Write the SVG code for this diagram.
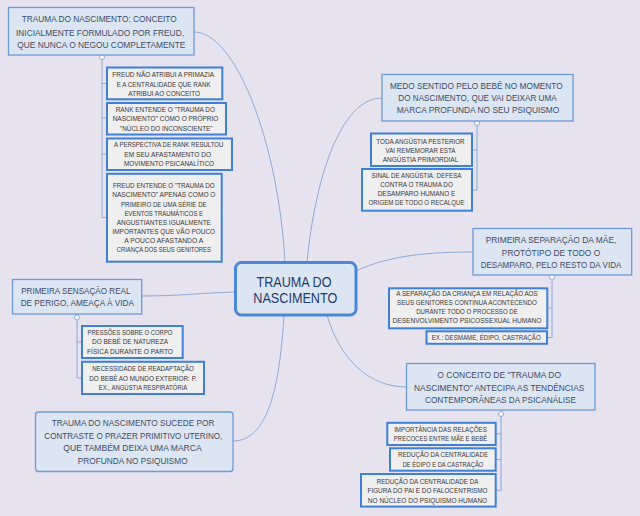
<svg xmlns="http://www.w3.org/2000/svg" width="640" height="516" viewBox="0 0 640 516">
<style>
text{font-family:"Liberation Sans",Arial,sans-serif;text-anchor:middle}
.mn{fill:#dce6f2;stroke:#6b9ad4;stroke-width:1.3}
.sb{fill:#efeff0;stroke:#3f80d6;stroke-width:2}
.cn{fill:#dce6f2;stroke:#4a88d6;stroke-width:3}
.mt{font-size:9px;fill:#3e4a66}
.st{font-size:7px;fill:#383838}
.ct{font-size:14px;fill:#1f3a6b}
.ln{fill:none;stroke:#8ea9d3;stroke-width:1}
.bt{fill:#ffffff;stroke:#8ea9d3;stroke-width:1}
</style>
<rect width="640" height="516" fill="#e7e3ee"/>

<g id="connectors">
<path class="ln" d="M194,32 C235,32 278,140 285,262"/>
<path class="ln" d="M307,262 C315,180 340,98 382,98"/>
<path class="ln" d="M356,271 C390,255 430,252 473,252"/>
<path class="ln" d="M142,296 C180,296 200,293 235,292"/>
<path class="ln" d="M284,315 C280,380 270,441 233,441"/>
<path class="ln" d="M327,315 C340,360 370,387 406,387"/>
<path class="ln" d="M102,59.5 V217.5 H107 M102,83.5 H107 M102,118 H107 M102,154 H107"/>
<path class="ln" d="M477,125.5 V190 H472 M477,150 H472"/>
<path class="ln" d="M552,279.5 V337.5 H547 M552,308 H547"/>
<path class="ln" d="M501,416.5 V490.3 H496 M501,433.8 H496 M501,459.5 H496"/>
<path class="ln" d="M77,320 V378 H82 M77,342 H82"/>
<circle class="bt" cx="102" cy="57" r="2.5"/>
<circle class="bt" cx="477" cy="123" r="2.5"/>
<circle class="bt" cx="552" cy="277" r="2.5"/>
<circle class="bt" cx="501" cy="414" r="2.5"/>
<circle class="bt" cx="77" cy="317.5" r="2.5"/>
</g>

<g id="center">
<rect class="cn" x="235.5" y="262.5" width="120.5" height="52.5" rx="6"/>
<text class="ct" x="294" y="286.7" textLength="75" lengthAdjust="spacingAndGlyphs">TRAUMA DO</text>
<text class="ct" x="295.3" y="302.7" textLength="84" lengthAdjust="spacingAndGlyphs">NASCIMENTO</text>
</g>

<g id="n-conceito-freud">
<rect class="mn" x="8.5" y="7.5" width="185.5" height="47.5"/>
<text class="mt" x="99.2" y="22.3" textLength="155" lengthAdjust="spacingAndGlyphs">TRAUMA DO NASCIMENTO: CONCEITO</text>
<text class="mt" x="100" y="35.6" textLength="168" lengthAdjust="spacingAndGlyphs">INICIALMENTE FORMULADO POR FREUD,</text>
<text class="mt" x="101.3" y="47.6" textLength="168" lengthAdjust="spacingAndGlyphs">QUE NUNCA O NEGOU COMPLETAMENTE</text>
</g>
<g id="s-freud-primazia">
<rect class="sb" x="107" y="67.5" width="115.3" height="31.8"/>
<text class="st" x="163.2" y="76.5" textLength="101.7" lengthAdjust="spacingAndGlyphs">FREUD NÃO ATRIBUI A PRIMAZIA</text>
<text class="st" x="163.7" y="86.5" textLength="94" lengthAdjust="spacingAndGlyphs">E A CENTRALIDADE QUE RANK</text>
<text class="st" x="164.2" y="95.8" textLength="71.7" lengthAdjust="spacingAndGlyphs">ATRIBUI AO CONCEITO</text>
</g>
<g id="s-rank-nucleo">
<rect class="sb" x="107" y="103" width="119" height="31.5"/>
<text class="st" x="165.3" y="111.5" textLength="99.3" lengthAdjust="spacingAndGlyphs">RANK ENTENDE O "TRAUMA DO</text>
<text class="st" x="165.5" y="121" textLength="105.7" lengthAdjust="spacingAndGlyphs">NASCIMENTO" COMO O PRÓPRIO</text>
<text class="st" x="166.3" y="130.5" textLength="92.7" lengthAdjust="spacingAndGlyphs">"NÚCLEO DO INCONSCIENTE"</text>
</g>
<g id="s-rank-afastamento">
<rect class="sb" x="107" y="138.5" width="125" height="31.5"/>
<text class="st" x="168.7" y="146.8" textLength="109.3" lengthAdjust="spacingAndGlyphs">A PERSPECTIVA DE RANK RESULTOU</text>
<text class="st" x="167.7" y="156.5" textLength="86.7" lengthAdjust="spacingAndGlyphs">EM SEU AFASTAMENTO DO</text>
<text class="st" x="169" y="166" textLength="90" lengthAdjust="spacingAndGlyphs">MOVIMENTO PSICANALÍTICO</text>
</g>
<g id="s-freud-serie">
<rect class="sb" x="107" y="173.8" width="114.7" height="87.9"/>
<text class="st" x="163.8" y="188.2" textLength="101.7" lengthAdjust="spacingAndGlyphs">FREUD ENTENDE O "TRAUMA DO</text>
<text class="st" x="163.8" y="197.3" textLength="103.3" lengthAdjust="spacingAndGlyphs">NASCIMENTO" APENAS COMO O</text>
<text class="st" x="163.8" y="206.5" textLength="85.7" lengthAdjust="spacingAndGlyphs">PRIMEIRO DE UMA SÉRIE DE</text>
<text class="st" x="163.8" y="215.7" textLength="78.3" lengthAdjust="spacingAndGlyphs">EVENTOS TRAUMÁTICOS E</text>
<text class="st" x="163.8" y="224.8" textLength="94.3" lengthAdjust="spacingAndGlyphs">ANGUSTIANTES IGUALMENTE</text>
<text class="st" x="163.8" y="234" textLength="102.7" lengthAdjust="spacingAndGlyphs">IMPORTANTES QUE VÃO POUCO</text>
<text class="st" x="163.8" y="243.2" textLength="79" lengthAdjust="spacingAndGlyphs">A POUCO AFASTANDO A</text>
<text class="st" x="163.8" y="252.4" textLength="94.3" lengthAdjust="spacingAndGlyphs">CRIANÇA DOS SEUS GENITORES</text>
</g>

<g id="n-medo">
<rect class="mn" x="382" y="74.5" width="191" height="46.5"/>
<text class="mt" x="476.3" y="88.8" textLength="172.7" lengthAdjust="spacingAndGlyphs">MEDO SENTIDO PELO BEBÊ NO MOMENTO</text>
<text class="mt" x="477.5" y="101.1" textLength="158.3" lengthAdjust="spacingAndGlyphs">DO NASCIMENTO, QUE VAI DEIXAR UMA</text>
<text class="mt" x="478" y="113.3" textLength="162.7" lengthAdjust="spacingAndGlyphs">MARCA PROFUNDA NO SEU PSIQUISMO</text>
</g>
<g id="s-toda-angustia">
<rect class="sb" x="371" y="133.5" width="101" height="32.5"/>
<text class="st" x="420.5" y="143.5" textLength="88.3" lengthAdjust="spacingAndGlyphs">TODA ANGÚSTIA PESTERIOR</text>
<text class="st" x="420.5" y="152.5" textLength="70" lengthAdjust="spacingAndGlyphs">VAI REMEMORAR ESTA</text>
<text class="st" x="420.5" y="161.8" textLength="75.7" lengthAdjust="spacingAndGlyphs">ANGÚSTIA PRIMORDIAL</text>
</g>
<g id="s-sinal-angustia">
<rect class="sb" x="362" y="169" width="110" height="41.7"/>
<text class="st" x="416.5" y="177.8" textLength="90" lengthAdjust="spacingAndGlyphs">SINAL DE ANGÚSTIA: DEFESA</text>
<text class="st" x="416.5" y="187" textLength="72.7" lengthAdjust="spacingAndGlyphs">CONTRA O TRAUMA DO</text>
<text class="st" x="416.5" y="196.1" textLength="77.7" lengthAdjust="spacingAndGlyphs">DESAMPARO HUMANO E</text>
<text class="st" x="416.5" y="205.3" textLength="96" lengthAdjust="spacingAndGlyphs">ORIGEM DE TODO O RECALQUE</text>
</g>

<g id="n-separacao">
<rect class="mn" x="473" y="228.5" width="158.7" height="46.5"/>
<text class="mt" x="551" y="243.3" textLength="130.7" lengthAdjust="spacingAndGlyphs">PRIMEIRA SEPARAÇÃO DA MÃE,</text>
<text class="mt" x="551" y="255.6" textLength="98.3" lengthAdjust="spacingAndGlyphs">PROTÓTIPO DE TODO O</text>
<text class="mt" x="551" y="267.6" textLength="140.7" lengthAdjust="spacingAndGlyphs">DESAMPARO, PELO RESTO DA VIDA</text>
</g>
<g id="s-separacao-crianca">
<rect class="sb" x="389" y="288.3" width="158.3" height="40"/>
<text class="st" x="467" y="296" textLength="141.3" lengthAdjust="spacingAndGlyphs">A SEPARAÇÃO DA CRIANÇA EM RELAÇÃO AOS</text>
<text class="st" x="467" y="305" textLength="140" lengthAdjust="spacingAndGlyphs">SEUS GENITORES CONTINUA ACONTECENDO</text>
<text class="st" x="467" y="314" textLength="101.7" lengthAdjust="spacingAndGlyphs">DURANTE TODO O PROCESSO DE</text>
<text class="st" x="467" y="323" textLength="149" lengthAdjust="spacingAndGlyphs">DESENVOLVIMENTO PSICOSSEXUAL HUMANO</text>
</g>
<g id="s-desmame">
<rect class="sb" x="426.5" y="331.3" width="120.5" height="12.5"/>
<text class="st" x="486.2" y="340.3" textLength="109" lengthAdjust="spacingAndGlyphs">EX.: DESMAME, ÉDIPO, CASTRAÇÃO</text>
</g>

<g id="n-antecipa">
<rect class="mn" x="406.5" y="363.5" width="188.5" height="46.5"/>
<text class="mt" x="499.2" y="378.3" textLength="123.7" lengthAdjust="spacingAndGlyphs">O CONCEITO DE "TRAUMA DO</text>
<text class="mt" x="499.2" y="390.6" textLength="170.3" lengthAdjust="spacingAndGlyphs">NASCIMENTO" ANTECIPA AS TENDÊNCIAS</text>
<text class="mt" x="500.5" y="402.6" textLength="151" lengthAdjust="spacingAndGlyphs">CONTEMPORÂNEAS DA PSICANÁLISE</text>
</g>
<g id="s-relacoes-precoces">
<rect class="sb" x="387.3" y="422.8" width="108.4" height="22.2"/>
<text class="st" x="440.5" y="431.5" textLength="92.7" lengthAdjust="spacingAndGlyphs">IMPORTÂNCIA DAS RELAÇÕES</text>
<text class="st" x="440.5" y="440.8" textLength="93.3" lengthAdjust="spacingAndGlyphs">PRECOCES ENTRE MÃE E BEBÊ</text>
</g>
<g id="s-edipo-castracao">
<rect class="sb" x="390" y="448.3" width="105.7" height="22.4"/>
<text class="st" x="443" y="457.3" textLength="90" lengthAdjust="spacingAndGlyphs">REDUÇÃO DA CENTRALIDADE</text>
<text class="st" x="443" y="466.6" textLength="80.7" lengthAdjust="spacingAndGlyphs">DE ÉDIPO E DA CASTRAÇÃO</text>
</g>
<g id="s-falocentrismo">
<rect class="sb" x="361" y="474" width="134.7" height="32.6"/>
<text class="st" x="427.5" y="484" textLength="101.7" lengthAdjust="spacingAndGlyphs">REDUÇÃO DA CENTRALIDADE DA</text>
<text class="st" x="427.5" y="493.3" textLength="120" lengthAdjust="spacingAndGlyphs">FIGURA DO PAI E DO FALOCENTRISMO</text>
<text class="st" x="427.5" y="502.8" textLength="119.3" lengthAdjust="spacingAndGlyphs">NO NÚCLEO DO PSIQUISMO HUMANO</text>
</g>

<g id="n-sensacao">
<rect class="mn" x="12.5" y="279.5" width="129.2" height="34.5"/>
<text class="mt" x="75.8" y="293.9" textLength="109.3" lengthAdjust="spacingAndGlyphs">PRIMEIRA SENSAÇÃO REAL</text>
<text class="mt" x="77.3" y="306.3" textLength="113.3" lengthAdjust="spacingAndGlyphs">DE PERIGO, AMEAÇA À VIDA</text>
</g>
<g id="s-pressoes">
<rect class="sb" x="82" y="326" width="100.7" height="32"/>
<text class="st" x="130" y="334.8" textLength="85" lengthAdjust="spacingAndGlyphs">PRESSÕES SOBRE O CORPO</text>
<text class="st" x="130" y="344.3" textLength="76" lengthAdjust="spacingAndGlyphs">DO BEBÊ DE NATUREZA</text>
<text class="st" x="130" y="353.8" textLength="86" lengthAdjust="spacingAndGlyphs">FÍSICA DURANTE O PARTO</text>
</g>
<g id="s-readaptacao">
<rect class="sb" x="82" y="361.8" width="122" height="32.2"/>
<text class="st" x="143" y="371.2" textLength="101.7" lengthAdjust="spacingAndGlyphs">NECESSIDADE DE READAPTAÇÃO</text>
<text class="st" x="143" y="380.6" textLength="107.7" lengthAdjust="spacingAndGlyphs">DO BEBÊ AO MUNDO EXTERIOR: P.</text>
<text class="st" x="143" y="389.8" textLength="88.3" lengthAdjust="spacingAndGlyphs">EX., ANGÚSTIA RESPIRATÓRIA</text>
</g>

<g id="n-prazer-uterino">
<rect class="mn" x="35.5" y="412" width="197.5" height="59.5" rx="3"/>
<text class="mt" x="133" y="426.4" textLength="162.7" lengthAdjust="spacingAndGlyphs">TRAUMA DO NASCIMENTO SUCEDE POR</text>
<text class="mt" x="133.3" y="438.8" textLength="178" lengthAdjust="spacingAndGlyphs">CONTRASTE O PRAZER PRIMITIVO UTERINO,</text>
<text class="mt" x="132.5" y="451.2" textLength="138.3" lengthAdjust="spacingAndGlyphs">QUE TAMBÉM DEIXA UMA MARCA</text>
<text class="mt" x="132.7" y="463.6" textLength="110" lengthAdjust="spacingAndGlyphs">PROFUNDA NO PSIQUISMO</text>
</g>
</svg>
